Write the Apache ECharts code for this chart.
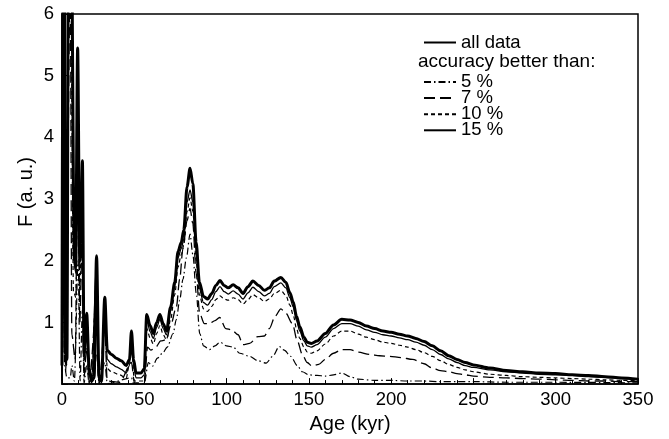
<!DOCTYPE html>
<html>
<head>
<meta charset="utf-8">
<script src="https://cdn.jsdelivr.net/npm/echarts@6/dist/echarts.min.js"></script>
<style>
html,body{margin:0;padding:0;background:#fff;}
#chart{width:669px;height:439px;}
</style>
</head>
<body>
<div id="chart"></div>
<script>
// Age (kyr) vs F (a.u.) pairs
var allData = [[0,0.3],[0.6,8],[1.3,8],[2,0.5],[3,0.4],[4,8],[5.5,8],[7.5,2.0],[8.3,1.9],[9.5,5.45],[10.8,2.0],[11.5,2.3],[12.4,3.62],[13.4,0.5],[15,1.15],[16.5,0.25],[18,0.05],[19.5,0.1],[21,2.08],[22.5,0.1],[24,0.05],[26,1.41],[27.5,0.55],[30,0.48],[33,0.42],[36,0.38],[39,0.3],[41,0.4],[42.2,0.86],[43.5,0.4],[45,0.18],[48,0.18],[50,0.25],[51.5,1.13],[53.5,0.95],[55.5,0.82],[57.5,1.0],[59.5,1.13],[61.5,0.98],[63.5,0.86],[66,1.25],[68.5,1.65],[70.5,2.15],[72.5,2.3],[74,2.5],[76,3.2],[77.8,3.5],[79.5,3.25],[81.5,2.3],[83.5,1.65],[86,1.42],[88.5,1.38],[91,1.47],[93.5,1.6],[96,1.68],[98.5,1.6],[101,1.56],[104,1.61],[107,1.56],[110,1.47],[113,1.58],[116,1.67],[119.5,1.6],[123,1.52],[126,1.56],[129,1.67],[133,1.73],[136,1.65],[138.5,1.48],[140.5,1.33],[142.5,1.1],[144.5,0.93],[147,0.76],[149,0.68],[151.5,0.66],[155,0.7],[160,0.82],[165,0.96],[170,1.05],[175,1.04],[180,1.0],[185,0.94],[190,0.9],[195,0.86],[200,0.84],[205,0.81],[210,0.78],[215,0.74],[220,0.69],[225,0.62],[230,0.54],[235,0.46],[240,0.4],[245,0.35],[250,0.31],[260,0.26],[270,0.22],[280,0.2],[290,0.18],[300,0.17],[310,0.15],[320,0.14],[330,0.12],[340,0.1],[350,0.08]];

var acc15 = [[0,0.2],[0.8,8],[1.2,8],[2,0.4],[3,0.3],[4.3,8],[5.3,8],[7.5,1.9],[8.5,1.8],[9.5,5.3],[10.8,1.9],[12.4,3.5],[13.4,0.4],[15,1.05],[16.5,0.2],[18,0.05],[21,2.0],[22.5,0.05],[24,0.05],[26,1.35],[27.5,0.4],[30,0.33],[33,0.28],[36,0.24],[39,0.18],[41,0.3],[42.2,0.78],[43.5,0.3],[45,0.1],[48,0.1],[50,0.15],[51.5,1.05],[53.5,0.85],[55.5,0.74],[57.5,0.92],[59.5,1.05],[61.5,0.9],[63.5,0.8],[66,1.18],[68.5,1.58],[70.5,2.05],[72.5,2.2],[74,2.35],[76,2.95],[77.8,3.15],[79.5,2.95],[81.5,2.15],[83.5,1.55],[86,1.32],[88.5,1.28],[91,1.37],[93.5,1.5],[96,1.58],[98.5,1.5],[101,1.46],[104,1.51],[107,1.46],[110,1.38],[113,1.48],[116,1.57],[119.5,1.5],[123,1.43],[126,1.47],[129,1.58],[133,1.64],[136,1.56],[138.5,1.4],[140.5,1.25],[142.5,1.03],[144.5,0.86],[147,0.7],[149,0.62],[151.5,0.6],[155,0.64],[160,0.76],[165,0.9],[170,0.98],[175,0.98],[180,0.94],[185,0.88],[190,0.84],[195,0.8],[200,0.78],[205,0.75],[210,0.72],[215,0.68],[220,0.63],[225,0.56],[230,0.48],[235,0.41],[240,0.35],[245,0.3],[250,0.27],[260,0.23],[270,0.2],[280,0.18],[290,0.16],[300,0.15],[310,0.14],[320,0.12],[330,0.11],[340,0.09],[350,0.075]];

var acc10 = [[0,0.1],[1,7],[1.6,7],[2.5,0.3],[4.5,7],[5.2,7],[7,1.5],[8.5,1.4],[9.6,4.8],[10.8,1.5],[12.4,3.2],[13.4,0.3],[15,0.9],[16.5,0.1],[18,0.02],[21,1.8],[22.5,0.02],[24,0.02],[26,1.2],[27.5,0.25],[30,0.2],[35,0.15],[39,0.1],[42.2,0.6],[44,0.05],[50,0.05],[51.5,0.9],[53.5,0.75],[55.5,0.65],[57.5,0.82],[59.5,0.95],[61.5,0.8],[63.5,0.72],[66,1.05],[68.5,1.45],[70.5,1.9],[72.5,2.1],[74,2.25],[76,2.8],[77.8,3.02],[79.5,2.8],[81.5,2.0],[83.5,1.45],[86,1.22],[88.5,1.18],[91,1.26],[93.5,1.37],[96,1.43],[98.5,1.38],[101,1.36],[104,1.4],[107,1.37],[110,1.3],[113,1.37],[116,1.45],[119.5,1.4],[123,1.34],[126,1.38],[129,1.47],[133,1.52],[136,1.44],[138.5,1.28],[140.5,1.12],[142.5,0.9],[144.5,0.74],[147,0.6],[149,0.52],[151.5,0.5],[155,0.54],[160,0.65],[165,0.78],[170,0.86],[175,0.86],[180,0.81],[185,0.76],[190,0.72],[195,0.68],[200,0.66],[205,0.63],[210,0.6],[215,0.56],[220,0.51],[225,0.45],[230,0.38],[235,0.32],[240,0.27],[245,0.23],[250,0.2],[260,0.16],[270,0.14],[280,0.12],[290,0.11],[300,0.1],[310,0.09],[320,0.08],[330,0.07],[340,0.06],[350,0.055]];

var acc7 = [[0,0.05],[1.5,6.5],[2.2,0.2],[5,6.5],[6,0.8],[8,0.4],[9.7,4.2],[10.8,1.0],[12.4,2.5],[13.4,0.1],[15,0.6],[16.5,0.02],[21,1.3],[22.5,0.01],[26,0.9],[27.5,0.05],[35,0.03],[42.2,0.35],[44,0.02],[50,0.02],[52,0.6],[54,0.55],[57,0.6],[60,0.7],[63.5,0.72],[66,0.95],[69.5,1.25],[71.5,1.7],[73.5,2.2],[76,2.65],[77.8,2.85],[79.5,2.6],[81.5,1.8],[83.7,1.14],[86.5,0.98],[89.7,0.98],[93,1.03],[95.8,1.08],[99.5,0.9],[103,0.88],[107,0.8],[110,0.64],[114,0.66],[119,0.77],[123,0.78],[126,0.9],[129.5,1.1],[133,1.22],[136,1.15],[140,0.98],[143,0.7],[146,0.48],[149,0.35],[152,0.29],[156,0.32],[160,0.4],[165,0.5],[170,0.56],[175,0.56],[180,0.52],[187,0.48],[193,0.46],[199,0.45],[206,0.43],[213,0.4],[220,0.33],[225,0.26],[230,0.22],[235,0.2],[240,0.17],[245,0.15],[250,0.13],[260,0.11],[270,0.1],[280,0.09],[290,0.08],[300,0.07],[310,0.06],[320,0.05],[330,0.05],[340,0.04],[350,0.04]];

var acc5 = [[0,0.6],[0.8,7],[1.5,0.3],[3,0.1],[5,0.1],[6,0.3],[7.5,0.05],[9.8,2.0],[11,0.05],[12.4,1.2],[13.4,0.02],[15,0.3],[16.5,0.01],[21,0.5],[22.5,0.01],[26,0.35],[27.5,0.01],[42.2,0.1],[43.5,0.01],[50,0.01],[52.5,0.35],[55,0.29],[58,0.42],[61,0.5],[64,0.6],[67.5,0.82],[69.5,1.05],[71.5,1.36],[73.5,1.7],[75.6,2.05],[77.8,2.43],[79.5,2.1],[81.6,1.47],[83.7,0.82],[86,0.62],[89.7,0.56],[93,0.62],[96,0.68],[100,0.62],[104,0.6],[108,0.5],[114,0.45],[119,0.38],[124,0.34],[128,0.45],[132,0.61],[135,0.55],[139,0.45],[143,0.3],[146,0.2],[150,0.15],[155,0.14],[160,0.13],[165,0.15],[170,0.18],[175,0.12],[180,0.08],[190,0.06],[200,0.06],[210,0.05],[220,0.05],[230,0.04],[240,0.04],[250,0.04],[270,0.03],[300,0.03],[350,0.02]];

var seriesNames = ['5 %', '7 %', '10 %', '15 %'];
var allName = 'all data';
var xTicks = [0, 50, 100, 150, 200, 250, 300, 350];

var chart = echarts.init(document.getElementById('chart'), null, {renderer: 'canvas'});
var font = '"Liberation Sans", Arial, Helvetica, sans-serif';

function mk(name, data, width, dash) {
  return {
    name: name, type: 'line', data: data, symbol: 'none',
    smooth: 0.3, smoothMonotone: 'x', clip: true,
    lineStyle: {color: '#000', width: width, type: dash},
    itemStyle: {color: '#000'},
    emphasis: {disabled: true}, animation: false
  };
}

var legendText = {fontFamily: font, fontSize: 18.5, color: '#000', lineHeight: 16};

chart.setOption({
  animation: false,
  backgroundColor: '#fff',
  grid: {left: 62, right: 31, top: 14, bottom: 50, show: true, borderColor: '#000', borderWidth: 1.5, backgroundColor: 'transparent'},
  xAxis: {
    type: 'value', min: 0, max: 350, interval: 50,
    name: 'Age (kyr)', nameLocation: 'middle', nameGap: 29,
    nameTextStyle: {fontFamily: font, fontSize: 20, color: '#000'},
    axisLine: {lineStyle: {color: '#000', width: 1.5}},
    axisTick: {inside: true, length: 6, lineStyle: {color: '#000', width: 1}},
    minorTick: {show: true, splitNumber: 5, length: 4, lineStyle: {color: '#000', width: 1}},
    axisLabel: {fontFamily: font, fontSize: 18.5, color: '#000', margin: 6,
      customValues: xTicks},
    splitLine: {show: false}
  },
  yAxis: {
    type: 'value', min: 0, max: 6, interval: 1,
    axisLine: {lineStyle: {color: '#000', width: 1.5}},
    axisTick: {inside: true, length: 6, lineStyle: {color: '#000', width: 1}},
    axisLabel: {fontFamily: font, fontSize: 18.5, color: '#000', margin: 8,
      formatter: function (v) { return v === 0 ? '' : String(v); }},
    splitLine: {show: false}
  },
  legend: [
    {data: [allName], left: 418, top: 28, orient: 'vertical', itemWidth: 32, itemHeight: 14, itemGap: 0,
     selectedMode: false, itemStyle: {opacity: 0, borderWidth: 0},
     textStyle: legendText},
    {data: seriesNames, left: 418, top: 67.5, orient: 'vertical', itemWidth: 32, itemHeight: 14, itemGap: -2.9,
     selectedMode: false, itemStyle: {opacity: 0, borderWidth: 0},
     textStyle: legendText}
  ],
  graphic: [
    {type: 'text', left: 418, top: 52, silent: true,
     style: {text: 'accuracy better than:', fontFamily: font, fontSize: 19, fill: '#000'}},
    {type: 'text', x: 26, y: 192, rotation: Math.PI / 2, silent: true,
     style: {text: 'F (a. u.)', fontFamily: font, fontSize: 20, fill: '#000', align: 'center', verticalAlign: 'middle'}}
  ],
  series: [
    mk(seriesNames[0], acc5, 1.2, [7, 3, 1.5, 3]),
    mk(seriesNames[1], acc7, 1.3, [11, 5]),
    mk(seriesNames[2], acc10, 1.2, [4, 3]),
    mk(seriesNames[3], acc15, 1.3, 'solid'),
    mk(allName, allData, 3, 'solid')
  ]
});
</script>
</body>
</html>
